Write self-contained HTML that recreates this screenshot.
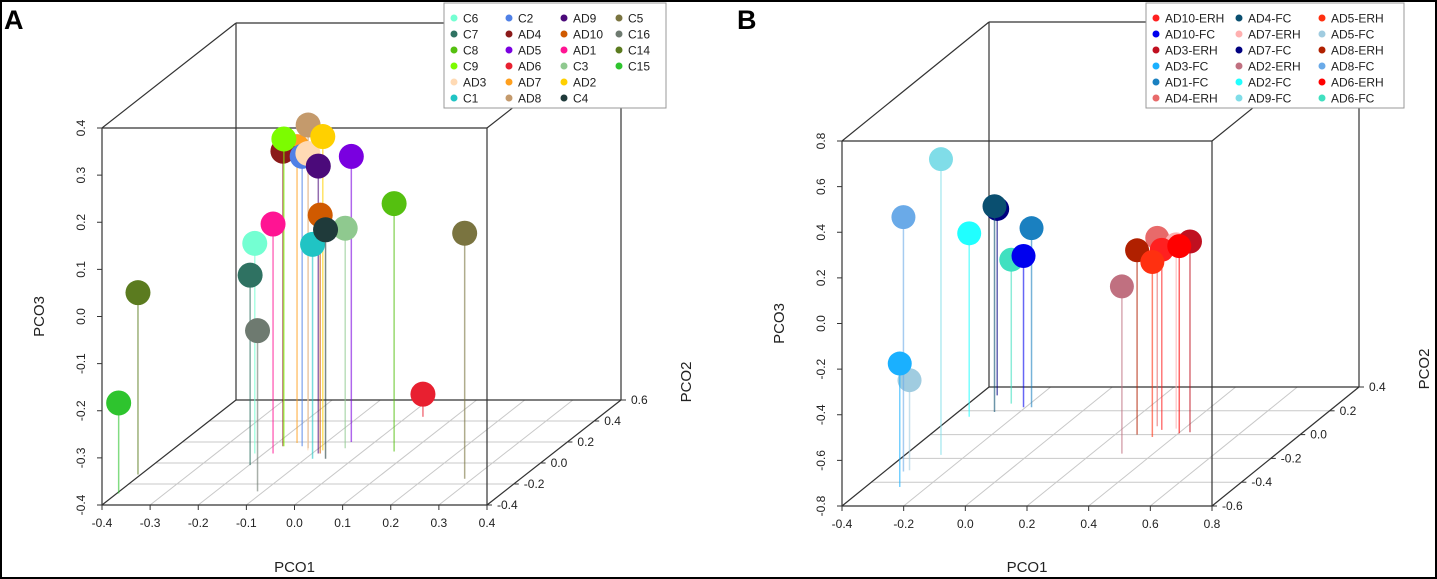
<!DOCTYPE html>
<html><head><meta charset="utf-8"><style>
body{margin:0;background:#fff;}
svg{display:block;font-family:"Liberation Sans",sans-serif;}
</style></head><body>
<svg id="fig" width="1437" height="579" viewBox="0 0 1437 579">
<rect x="1" y="1" width="1435" height="577" fill="#fff" stroke="#000" stroke-width="2"/>
<text x="4" y="29" font-size="27" font-weight="bold">A</text>
<text x="737" y="29" font-size="27" font-weight="bold">B</text>
</svg>
<script>
// Panel A data
const aNames=["C15","C14","C7","C6","C16","AD1","AD4","C9","AD7","C2","AD3","AD8","AD2","AD9","AD10","C1","C4","C3","AD5","C8","AD6","C5"];
const aColors=["#2ec42e","#5b7b1f","#2f7262","#74ffd2","#6e7a70","#ff1493","#8b1a1a","#7cfc00","#ffa01e","#4f80e6","#ffdab4","#c49a6c","#ffd000","#4b0a7a","#d05a00","#20c4c4","#1f3a3a","#8fc98f","#7a00e0","#55c010","#e82030","#7a7440"];
const aX=[-0.396,-0.406,-0.198,-0.219,-0.113,-0.181,-0.180,-0.178,-0.159,-0.140,-0.117,-0.122,-0.086,-0.087,-0.083,-0.085,-0.058,-0.045,-0.049,0.065,0.033,0.284];
const aY=[-0.29,-0.11,-0.02,0.09,-0.27,0.09,0.16,0.16,0.19,0.16,0.12,0.14,0.12,0.09,0.09,0.04,0.04,0.14,0.20,0.11,0.44,-0.15];
const aZ=[-0.208,-0.014,0.003,0.046,-0.059,0.087,0.226,0.252,0.229,0.215,0.230,0.286,0.266,0.210,0.106,0.055,0.086,0.067,0.206,0.126,-0.352,0.121];
const aXTicks=["-0.4","-0.3","-0.2","-0.1","0.0","0.1","0.2","0.3","0.4"];
const aYTicks=["-0.4","-0.2","0.0","0.2","0.4","0.6"];
const aZTicks=["-0.4","-0.3","-0.2","-0.1","0.0","0.1","0.2","0.3","0.4"];
const aLegend=["C6","C7","C8","C9","AD3","C1","C2","AD4","AD5","AD6","AD7","AD8","AD9","AD10","AD1","C3","AD2","C4","C5","C16","C14","C15"];
// Panel B data
const bNames=["AD9-FC","AD8-FC","AD3-FC","AD5-FC","AD2-FC","AD4-FC","AD7-FC","AD1-FC","AD6-FC","AD10-FC","AD2-ERH","AD8-ERH","AD4-ERH","AD10-ERH","AD5-ERH","AD7-ERH","AD6-ERH","AD3-ERH"];
const bColors=["#80dde8","#6aaae8","#1ab0ff","#a0cce0","#20ffff","#0a4f70","#000080","#1a80c0","#40e0c0","#0000ee","#c07080","#b02000","#e86a6a","#ff2020","#ff3010","#ffb0b0","#ff0000","#c01020"];
const bX=[-0.284,-0.339,-0.289,-0.324,-0.345,-0.282,-0.340,-0.181,-0.261,-0.207,0.298,0.271,0.303,0.332,0.330,0.374,0.403,0.433];
const bY=[-0.17,-0.31,-0.44,-0.30,0.15,0.19,0.33,0.23,0.26,0.23,-0.16,0.00,0.07,0.04,-0.02,0.05,0.01,0.02];
const bZ=[0.496,0.315,-0.259,-0.405,0.004,0.102,0.017,-0.015,-0.169,-0.137,-0.067,0.008,0.026,-0.011,-0.033,0.008,0.021,0.036];
const bXTicks=["-0.4","-0.2","0.0","0.2","0.4","0.6","0.8"];
const bYTicks=["-0.6","-0.4","-0.2","0.0","0.2","0.4"];
const bZTicks=["-0.8","-0.6","-0.4","-0.2","0.0","0.2","0.4","0.6","0.8"];
const bLegend=["AD10-ERH","AD10-FC","AD3-ERH","AD3-FC","AD1-FC","AD4-ERH","AD4-FC","AD7-ERH","AD7-FC","AD2-ERH","AD2-FC","AD9-FC","AD5-ERH","AD5-FC","AD8-ERH","AD8-FC","AD6-ERH","AD6-FC"];

const NS="http://www.w3.org/2000/svg";
const svg=document.getElementById('fig');
function mk(tag,at,parent){const e=document.createElementNS(NS,tag);for(const k in at)e.setAttribute(k,at[k]);(parent||svg).appendChild(e);return e;}

function panel(p){
  const g=mk('g',{});
  
  
  const xr=[+p.xt[0],+p.xt[p.xt.length-1]],yr=[+p.yt[0],+p.yt[p.yt.length-1]],zr=[+p.zt[0],+p.zt[p.zt.length-1]];
  const W=p.R-p.L,H=p.B-p.T;
  function proj(x,y,z){const t=(y-yr[0])/(yr[1]-yr[0]);return [p.L+(x-xr[0])/(xr[1]-xr[0])*W+t*p.dx, p.B-(z-zr[0])/(zr[1]-zr[0])*H-t*p.dy];}
  const grid=mk('g',{stroke:'#c8c8c8','stroke-width':1},g);
  
  
  p.yt.forEach(v=>{const a=proj(xr[0],+v,zr[0]),b=proj(xr[1],+v,zr[0]);mk('line',{x1:a[0],y1:a[1],x2:b[0],y2:b[1]},grid);});
  p.xt.forEach(v=>{const a=proj(+v,yr[0],zr[0]),b=proj(+v,yr[1],zr[0]);mk('line',{x1:a[0],y1:a[1],x2:b[0],y2:b[1]},grid);});
  const box=mk('g',{stroke:'#333','stroke-width':1.2,fill:'none'},g);
  
  
  const c=(x,y,z)=>proj(x?xr[1]:xr[0],y?yr[1]:yr[0],z?zr[1]:zr[0]);
  const edges=[[0,0,0,1,0,0],[0,0,0,0,0,1],[1,0,0,1,0,1],[0,0,1,1,0,1],[0,1,0,0,1,1],[0,1,1,1,1,1],[1,1,0,1,1,1],[0,0,1,0,1,1],[1,0,1,1,1,1],[1,0,0,1,1,0],[0,0,0,0,1,0],[0,1,0,1,1,0]];
  edges.forEach(e=>{const a=c(e[0],e[1],e[2]),b=c(e[3],e[4],e[5]);mk('line',{x1:a[0],y1:a[1],x2:b[0],y2:b[1]},box);});
  const tk=mk('g',{stroke:'#333','stroke-width':1},g);
  const lab=mk('g',{'font-size':12,fill:'#222'},g);
  p.xt.forEach(v=>{const a=proj(+v,yr[0],zr[0]);mk('line',{x1:a[0],y1:a[1],x2:a[0],y2:a[1]+5},tk);
    const t=mk('text',{x:a[0],y:a[1]+22,'text-anchor':'middle'},lab);t.textContent=v;
    
    });
  p.zt.forEach(v=>{const a=proj(xr[0],yr[0],+v);mk('line',{x1:a[0]-5,y1:a[1],x2:a[0],y2:a[1]},tk);
    const t=mk('text',{x:0,y:0,'text-anchor':'middle',transform:`translate(${a[0]-17},${a[1]}) rotate(-90)`},lab);t.textContent=v;
    
    });
  p.yt.forEach(v=>{const a=proj(xr[1],+v,zr[0]);mk('line',{x1:a[0],y1:a[1],x2:a[0]+5,y2:a[1]},tk);
    const t=mk('text',{x:a[0]+10,y:a[1]+4},lab);t.textContent=v;
    
    });
  const ax=[['PCO1',(p.L+p.R)/2,572,0,'x-axis-title'],['PCO3',p.L-58,(p.T+p.B)/2,-90,'z-axis-title'],['PCO2',p.R+p.dx+70,p.B-p.dy-18,-90,'y-axis-title']];
  ax.forEach(a=>{const t=mk('text',{x:0,y:0,'font-size':15,fill:'#222','text-anchor':'middle',transform:`translate(${a[1]},${a[2]}) rotate(${a[3]})`},g);t.textContent=a[0];
    
    });
  const idx=p.names.map((n,i)=>i).sort((i,j)=>p.Y[j]-p.Y[i]);
  idx.forEach(i=>{
    const top=proj(p.X[i],p.Y[i],p.Z[i]),bot=proj(p.X[i],p.Y[i],zr[0]);
    const s=mk('line',{x1:top[0],y1:top[1],x2:bot[0],y2:bot[1],stroke:p.cols[i],'stroke-opacity':0.6,'stroke-width':1.5},g);
    
    
    const d=mk('circle',{cx:top[0],cy:top[1],r:p.r,fill:p.cols[i]},g);
    
    
  });
  const lg=mk('g',{},g);
  
  
  mk('rect',{x:p.lx,y:3,width:p.lw,height:105,fill:'#fff',stroke:'#999'},lg);
  p.leg.forEach((n,k)=>{const col=Math.floor(k/6),row=k%6;const cx=p.lx+10+col*p.lcw,cy=18+row*16;
    const ci=p.names.indexOf(n);
    mk('circle',{cx:cx,cy:cy,r:3.5,fill:p.cols[ci]},lg);
    const t=mk('text',{x:cx+9,y:cy+4.5,'font-size':12,fill:'#222'},lg);t.textContent=n;
    
    });
}
panel({id:'panel-a',L:102,R:487,T:128,B:505,dx:134,dy:105,xt:aXTicks,yt:aYTicks,zt:aZTicks,names:aNames,cols:aColors,X:aX,Y:aY,Z:aZ,r:12.5,leg:aLegend,lx:444,lw:222,lcw:55});
panel({id:'panel-b',L:842,R:1212,T:141,B:506,dx:147,dy:119,xt:bXTicks,yt:bYTicks,zt:bZTicks,names:bNames,cols:bColors,X:bX,Y:bY,Z:bZ,r:12,leg:bLegend,lx:1146,lw:258,lcw:83});
</script>
</body></html>
